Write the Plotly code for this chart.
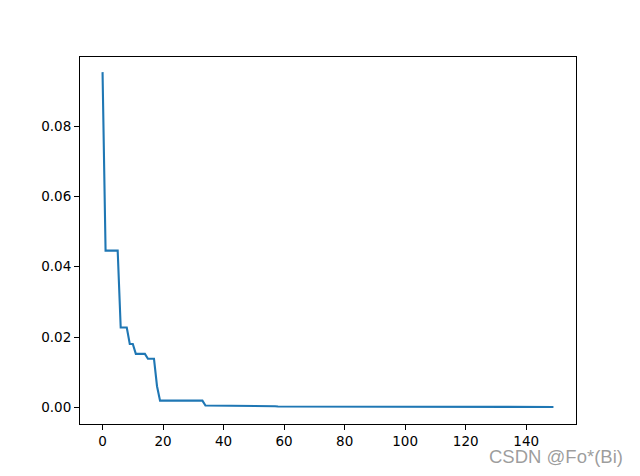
import plotly.graph_objects as go

x_index = list(range(150))
loss_values = [
    0.0954, 0.0446, 0.0446, 0.0446, 0.0446, 0.0446, 0.0227, 0.0227, 0.0227, 0.0180,
    0.0180, 0.0152, 0.0152, 0.0152, 0.0152, 0.0138, 0.0138, 0.0138, 0.0060, 0.0019,
    0.0019, 0.0019, 0.0019, 0.0019, 0.0019, 0.0019, 0.0019, 0.0019, 0.0019, 0.0019,
    0.0019, 0.0019, 0.0019, 0.0019, 0.0005, 0.0005, 0.0005, 0.0005, 0.0005, 0.0005,
    0.0005, 0.0005, 0.0005, 0.0005, 0.0005, 0.0005, 0.0005, 0.0003, 0.0003, 0.0003,
    0.0003, 0.0003, 0.0003, 0.0003, 0.0003, 0.0003, 0.0003, 0.0003, 0.00025, 0.00025,
    0.00025, 0.00025, 0.00025, 0.00025, 0.00025, 0.00025, 0.00025, 0.00025, 0.00025, 0.00025,
    0.00025, 0.00025, 0.00025, 0.00025, 0.00025, 0.00025, 0.00025, 0.00025, 0.00025, 0.00025,
    0.00025, 0.00025, 0.00025, 0.00025, 0.00025, 0.00025, 0.00025, 0.00025, 0.0001, 0.0001,
    0.0001, 0.0001, 0.0001, 0.0001, 0.0001, 0.0001, 0.0001, 0.0001, 0.0001, 0.0001,
    0.0001, 0.0001, 0.0001, 0.0001, 0.0001, 0.0001, 0.0001, 0.0001, 0.0001, 0.0001,
    0.0001, 0.0001, 0.0001, 0.0001, 0.0001, 0.0001, 0.0001, 0.0001, 0.0001, 0.0001,
    0.0001, 0.0001, 0.0001, 0.0001, 0.0001, 0.0001, 0.0001, 0.0001, 0.0001, 0.0001,
    0.0001, 0.0001, 0.0001, 0.0001, 0.0001, 0.0001, 0.0001, 0.0001, 0.0001, 0.0001,
    0.0001, 0.0001, 0.0001, 0.0001, 0.0001, 0.0001, 0.0001, 0.0001, 0.0001, 0.0001,
]
x_ticks = [0, 20, 40, 60, 80, 100, 120, 140]
y_ticks = [0.00, 0.02, 0.04, 0.06, 0.08]
y_tick_labels = ["0.00", "0.02", "0.04", "0.06", "0.08"]
watermark = "CSDN @Fo*(Bi)"

fig = go.Figure()
fig.add_trace(go.Scatter(
    x=x_index, y=loss_values, mode="lines",
    line=dict(color="#1f77b4", width=2.1),
    showlegend=False,
))

axis_common = dict(
    showline=True, linecolor="black", linewidth=1, mirror=True,
    ticks="outside", ticklen=5, tickwidth=1, tickcolor="black",
    showgrid=False, zeroline=False,
    tickfont=dict(family="DejaVu Sans", size=13.5, color="black"),
)

# page body adds an 8px margin, so the figure is sized/offset to compensate
fig.update_layout(
    width=624, height=460,
    margin=dict(l=72, r=56, t=49, b=44, autoexpand=False),
    paper_bgcolor="white", plot_bgcolor="white",
    xaxis=dict(range=[-7.45, 156.45], tickvals=x_ticks, **axis_common),
    yaxis=dict(range=[-0.00475, 0.0997], tickvals=y_ticks, ticktext=y_tick_labels, **axis_common),
    annotations=[dict(
        text=watermark, xref="paper", yref="paper",
        x=1.099, y=-0.089, xanchor="right", yanchor="middle",
        showarrow=False,
        font=dict(family="Liberation Sans", size=18.5, color="rgba(140,140,140,0.85)"),
    )],
)

fig.write_html("out.html")
